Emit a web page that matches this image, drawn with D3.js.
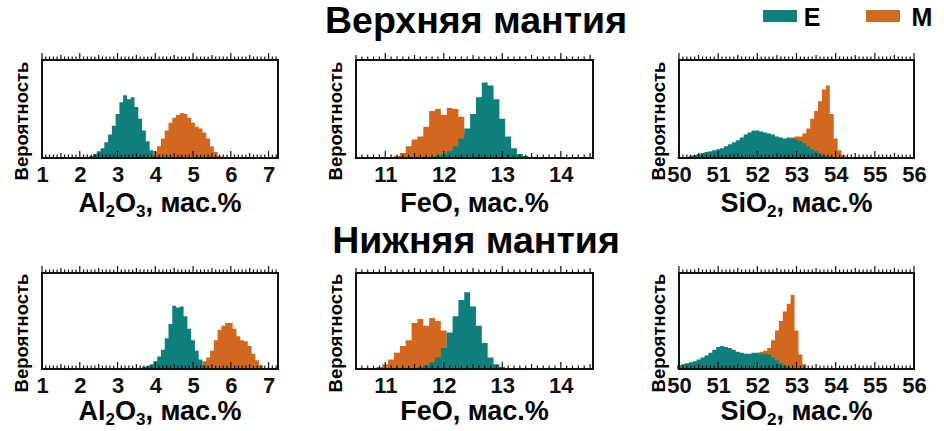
<!DOCTYPE html>
<html><head><meta charset="utf-8">
<script src="https://cdn.jsdelivr.net/npm/d3@7"></script>
<style>body{margin:0;background:#fff}text{font-family:"Liberation Sans",Arial,sans-serif;font-weight:bold}</style>
</head><body><svg id="c" width="944" height="431"></svg>
<script>
const seriesNames = ["E","M"];
const colors = {E:"#0f7f7b", M:"#d2681f"};
const rowTitles = ["Верхняя мантия","Нижняя мантия"];
const yLabel = "Вероятность";
const binWidth = 0.1;
// each histogram: first bin centre + heights (fraction of max plot height)
const alUpperE = {start:2.2, h:[0.01,0.02,0.04,0.07,0.1,0.16,0.24,0.33,0.45,0.57,0.64,0.6,0.62,0.52,0.4,0.28,0.17,0.08,0.02]};
const alUpperM = {start:3.9, h:[0.03,0.07,0.12,0.2,0.28,0.36,0.41,0.44,0.46,0.45,0.41,0.36,0.32,0.3,0.26,0.2,0.12,0.06,0.02]};
const feUpperE = {start:11.8, h:[0.01,0.02,0.04,0.07,0.12,0.2,0.3,0.45,0.62,0.77,0.74,0.6,0.4,0.22,0.1,0.04,0.02,0.01]};
const feUpperM = {start:11.1, h:[0.01,0.02,0.05,0.12,0.19,0.22,0.32,0.48,0.5,0.44,0.51,0.5,0.42,0.25]};
const siUpperE = {start:50.0, h:[0.01,0.01,0.01,0.02,0.03,0.04,0.05,0.06,0.07,0.08,0.09,0.1,0.12,0.14,0.16,0.18,0.21,0.24,0.26,0.28,0.28,0.27,0.26,0.25,0.24,0.22,0.21,0.2,0.21,0.2,0.19,0.17,0.15,0.12,0.09,0.07,0.05,0.03,0.02,0.01]};
const siUpperM = {start:52.5, h:[0.05,0.08,0.12,0.17,0.21,0.22,0.22,0.25,0.3,0.4,0.48,0.58,0.7,0.74,0.45,0.2,0.08,0.03,0.01]};
const alLowerE = {start:3.6, h:[0.01,0.02,0.03,0.05,0.08,0.13,0.2,0.32,0.47,0.66,0.64,0.65,0.55,0.42,0.3,0.19,0.1,0.04,0.01]};
const alLowerM = {start:5.2, h:[0.04,0.08,0.12,0.19,0.3,0.41,0.45,0.48,0.48,0.42,0.34,0.3,0.29,0.24,0.16,0.09,0.04,0.01]};
const feLowerE = {start:11.5, h:[0.01,0.02,0.04,0.07,0.12,0.22,0.38,0.55,0.72,0.8,0.65,0.45,0.27,0.12,0.05,0.02,0.01]};
const feLowerM = {start:10.8, h:[0.01,0.02,0.05,0.1,0.17,0.24,0.3,0.48,0.52,0.45,0.53,0.5,0.4]};
const siLowerE = {start:50.0, h:[0.04,0.05,0.06,0.07,0.08,0.1,0.12,0.14,0.17,0.2,0.23,0.24,0.23,0.22,0.2,0.18,0.17,0.16,0.16,0.17,0.17,0.16,0.16,0.15,0.12,0.09,0.06,0.04,0.02,0.01]};
const siLowerM = {start:52.0, h:[0.1,0.18,0.19,0.22,0.3,0.4,0.5,0.6,0.68,0.77,0.4,0.15,0.05,0.01]};
const alDomain=[1,7.25], feDomain=[10.5,14.55], siDomain=[50,56];
const alTicks=[1,2,3,4,5,6,7], feTicks=[11,12,13,14], siTicks=[50,51,52,53,54,55,56];

const panels = [
 {row:0,x0:42,x1:278,dom:alDomain,ticks:alTicks,E:alUpperE,M:alUpperM,lab:"al"},
 {row:0,x0:356,x1:593,dom:feDomain,ticks:feTicks,E:feUpperE,M:feUpperM,lab:"fe"},
 {row:0,x0:679,x1:914,dom:siDomain,ticks:siTicks,E:siUpperE,M:siUpperM,lab:"si"},
 {row:1,x0:42,x1:278,dom:alDomain,ticks:alTicks,E:alLowerE,M:alLowerM,lab:"al"},
 {row:1,x0:356,x1:593,dom:feDomain,ticks:feTicks,E:feLowerE,M:feLowerM,lab:"fe"},
 {row:1,x0:679,x1:914,dom:siDomain,ticks:siTicks,E:siLowerE,M:siLowerM,lab:"si"}];
const rows=[{y0:60,y1:158,title:33,lab:54},{y0:273,y1:369,title:253,lab:51}];

const svg=d3.select("#c");
rowTitles.forEach((t,i)=>svg.append("text").attr("x",476).attr("y",rows[i].title).attr("text-anchor","middle").attr("font-size",37.5).text(t));
[["E",763,812],["M",866,922]].forEach(([k,rx,tx])=>{
  svg.append("rect").attr("x",rx).attr("y",10).attr("width",34).attr("height",12).attr("fill",colors[k]);
  svg.append("text").attr("x",tx).attr("y",26).attr("text-anchor","middle").attr("font-size",25).text(k);
});

panels.forEach(p=>{
  const r=rows[p.row];
  const x=d3.scaleLinear().domain(p.dom).range([p.x0,p.x1]);
  const y=d3.scaleLinear().domain([0,1]).range([r.y1,r.y0]);
  const g=svg.append("g");
  ["M","E"].forEach(k=>{
    const s=p[k];
    const pts=[];
    s.h.forEach((v,i)=>{const c=s.start+i*binWidth;pts.push([c-binWidth/2,v],[c+binWidth/2,v]);});
    const area=d3.area().x(d=>x(d[0])).y0(y(0)).y1(d=>y(d[1]));
    g.append("path").attr("d",area(pts)).attr("fill",colors[k]);
  });
  const minor=d3.range(Math.ceil(p.dom[0]*10),Math.floor(p.dom[1]*10)+1).map(d=>d/10);
  const isMaj=d=>Math.abs(d-Math.round(d))<1e-6;
  const isHalf=d=>Math.abs(d*2-Math.round(d*2))<1e-6;
  const ts=d=>isMaj(d)?7:(isHalf(d)?5:3.5);
  minor.forEach(d=>{
    g.append("line").attr("x1",x(d)).attr("x2",x(d)).attr("y1",r.y0).attr("y2",r.y0-ts(d)).attr("stroke","#111").attr("stroke-width",1.2);
    g.append("line").attr("x1",x(d)).attr("x2",x(d)).attr("y1",r.y1).attr("y2",r.y1-ts(d)).attr("stroke","#111").attr("stroke-width",1.2);
  });
  g.append("rect").attr("x",p.x0).attr("y",r.y0).attr("width",p.x1-p.x0).attr("height",r.y1-r.y0).attr("fill","none").attr("stroke","#111").attr("stroke-width",2);
  const ax=d3.axisBottom(x).tickValues(p.ticks).tickSize(0).tickPadding(8).tickFormat(d3.format("d"));
  const a=g.append("g").attr("transform",`translate(0,${r.y1})`).call(ax);
  a.select(".domain").remove();
  a.selectAll("text").attr("font-size",22).attr("fill","#111").style("font-family","Liberation Sans").style("font-weight","bold");
  const cx=(p.x0+p.x1)/2, ty=r.y1+r.lab;
  const t=g.append("text").attr("x",cx).attr("y",ty).attr("text-anchor","middle").attr("font-size",27);
  if(p.lab==="al"){t.append("tspan").text("Al");t.append("tspan").attr("font-size",17).attr("dy",5).text("2");t.append("tspan").attr("dy",-5).text("O");t.append("tspan").attr("font-size",17).attr("dy",5).text("3");t.append("tspan").attr("dy",-5).text(", мас.%");}
  else if(p.lab==="fe"){t.text("FeO, мас.%");}
  else {t.append("tspan").text("SiO");t.append("tspan").attr("font-size",17).attr("dy",5).text("2");t.append("tspan").attr("dy",-5).text(", мас.%");}
  g.append("text").attr("transform",`translate(${p.x0-14},${(r.y0+r.y1)/2+12}) rotate(-90)`).attr("text-anchor","middle").attr("font-size",18.5).text(yLabel);
});
</script></body></html>
